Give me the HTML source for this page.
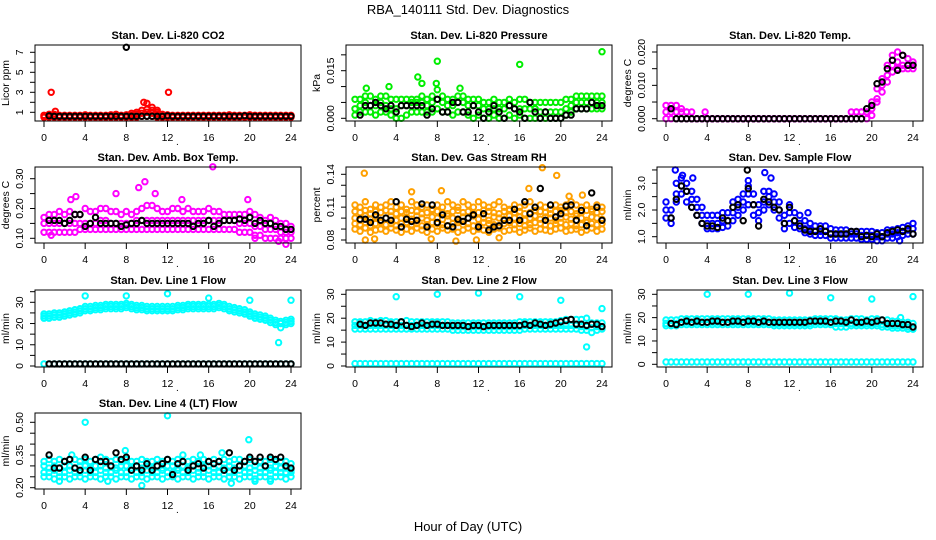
<!DOCTYPE html>
<html><head><meta charset="utf-8"><style>
html,body{margin:0;padding:0;background:#fff;}
svg{display:block;font-family:"Liberation Sans",Arial,sans-serif;}
</style></head><body>
<svg id="chart" width="936" height="540" viewBox="0 0 936 540" xmlns="http://www.w3.org/2000/svg">
<rect x="0" y="0" width="936" height="540" fill="#fff"/>
<text x="468" y="14" text-anchor="middle" font-size="13">RBA_140111  Std. Dev. Diagnostics</text>
<text x="468" y="531" text-anchor="middle" font-size="13">Hour of Day (UTC)</text>
</svg>
<script>
const hours=[0,0.5,1,1.5,2,2.5,3,3.5,4,4.5,5,5.5,6,6.5,7,7.5,8,8.5,9,9.5,10,10.5,11,11.5,12,12.5,13,13.5,14,14.5,15,15.5,16,16.5,17,17.5,18,18.5,19,19.5,20,20.5,21,21.5,22,22.5,23,23.5,24];
const xTicks=[0,4,8,12,16,20,24];

const co2Hi=[0.7,0.8,0.8,0.7,0.7,0.7,0.7,0.7,0.75,0.7,0.7,0.7,0.7,0.75,0.8,0.7,0.75,0.9,1.0,1.2,1.3,1.2,1.0,0.8,0.75,0.7,0.7,0.7,0.7,0.7,0.7,0.7,0.7,0.7,0.7,0.7,0.75,0.7,0.7,0.7,0.75,0.7,0.7,0.7,0.7,0.7,0.7,0.7,0.7];
const co2Mid=[0.6,0.6,0.6,0.6,0.6,0.6,0.6,0.6,0.6,0.6,0.6,0.6,0.6,0.6,0.6,0.6,0.6,0.7,0.8,0.9,1.0,0.9,0.8,0.6,0.6,0.6,0.6,0.6,0.6,0.6,0.6,0.6,0.6,0.6,0.6,0.6,0.6,0.6,0.6,0.6,0.6,0.6,0.6,0.6,0.6,0.6,0.6,0.6,0.6];
const co2Lo=[0.5,0.5,0.5,0.5,0.5,0.5,0.5,0.5,0.5,0.5,0.5,0.5,0.5,0.5,0.5,0.5,0.5,0.5,0.5,0.6,0.6,0.6,0.5,0.5,0.5,0.5,0.5,0.5,0.5,0.5,0.5,0.5,0.5,0.5,0.5,0.5,0.5,0.5,0.5,0.5,0.5,0.5,0.5,0.5,0.5,0.5,0.5,0.5,0.5];
const co2OutX=[0.7,1.1,9.7,10.0,10.5,11.0,12.1];
const co2OutY=[3.0,1.1,2.0,1.9,1.5,1.2,3.0];
const co2Black=[0.6,0.65,0.6,0.6,0.6,0.6,0.6,0.6,0.6,0.6,0.6,0.6,0.6,0.6,0.6,0.6,0.6,0.6,0.6,0.6,0.6,0.6,0.6,0.6,0.65,0.6,0.6,0.6,0.6,0.6,0.6,0.6,0.6,0.6,0.6,0.6,0.6,0.6,0.6,0.65,0.6,0.6,0.6,0.6,0.6,0.6,0.6,0.6,0.6];
const co2BlackOutX=[8.0];
const co2BlackOutY=[7.5];

const presHi=[0.006,0.006,0.007,0.007,0.006,0.007,0.007,0.006,0.006,0.006,0.006,0.006,0.006,0.007,0.006,0.007,0.009,0.007,0.006,0.006,0.007,0.007,0.006,0.006,0.006,0.005,0.005,0.006,0.005,0.005,0.006,0.005,0.006,0.006,0.005,0.005,0.005,0.005,0.005,0.005,0.005,0.006,0.006,0.007,0.007,0.007,0.007,0.007,0.007];
const presMid=[0.003,0.004,0.005,0.004,0.004,0.005,0.004,0.003,0.003,0.004,0.004,0.005,0.005,0.005,0.004,0.005,0.006,0.005,0.004,0.004,0.005,0.005,0.004,0.004,0.004,0.003,0.003,0.003,0.003,0.003,0.004,0.003,0.003,0.003,0.003,0.003,0.002,0.002,0.002,0.002,0.002,0.003,0.004,0.005,0.005,0.005,0.005,0.005,0.005];
const presLo=[0.001,0.002,0.002,0.002,0.001,0.002,0.002,0.001,0.000,0.000,0.001,0.002,0.002,0.002,0.002,0.002,0.003,0.002,0.002,0.001,0.002,0.002,0.001,0.000,0.001,0.000,0.000,0.001,0.000,0.000,0.001,0.000,0.001,0.000,0.000,0.000,0.000,0.000,0.000,0.000,0.000,0.001,0.002,0.003,0.003,0.003,0.003,0.003,0.003];
const presOutX=[1.1,3.3,6.1,6.5,7.9,8.0,10.2,16.0,24.0];
const presOutY=[0.0095,0.010,0.013,0.011,0.011,0.018,0.0095,0.017,0.021];
const presBlack=[0.001,0.001,0.004,0.004,0.005,0.004,0.003,0.004,0.002,0.004,0.004,0.004,0.004,0.004,0.001,0.003,0.006,0.002,0.002,0.005,0.005,0.002,0.002,0.004,0.002,0.000,0.002,0.004,0.002,0.000,0.004,0.003,0.002,0.000,0.005,0.002,0.000,0.002,0.000,0.000,0.000,0.001,0.001,0.003,0.003,0.003,0.005,0.004,0.004];

const tempHi=[0.004,0.004,0.004,0.003,0.002,0.002,0,0,0,0,0,0,0,0,0,0,0,0,0,0,0,0,0,0,0,0,0,0,0,0,0,0,0,0,0,0,0.002,0.002,0.002,0.002,0.005,0.009,0.012,0.016,0.019,0.020,0.019,0.018,0.017];
const tempMid=[0.002,0.002,0.002,0.002,0.002,0,0,0,0,0,0,0,0,0,0,0,0,0,0,0,0,0,0,0,0,0,0,0,0,0,0,0,0,0,0,0,0,0.002,0.002,0.002,0.003,0.006,0.010,0.013,0.016,0.017,0.016,0.016,0.016];
const tempLo=[0,0,0,0,0,0,0,0,0,0,0,0,0,0,0,0,0,0,0,0,0,0,0,0,0,0,0,0,0,0,0,0,0,0,0,0,0,0,0,0,0.001,0.005,0.008,0.011,0.014,0.015,0.015,0.015,0.015];
const tempOutX=[3.8];
const tempOutY=[0.002];
const tempBlack=[0,0.003,0,0,0,0,0,0,0,0,0,0,0,0,0,0,0,0,0,0,0,0,0,0,0,0,0,0,0,0,0,0,0,0,0,0,0,0,0,0.003,0.004,0.0105,0.011,0.015,0.0175,0.0145,0.019,0.016,0.016];

const boxHi=[0.17,0.18,0.18,0.19,0.18,0.19,0.18,0.18,0.20,0.19,0.19,0.20,0.20,0.19,0.19,0.18,0.19,0.18,0.19,0.20,0.21,0.21,0.20,0.19,0.19,0.20,0.20,0.19,0.20,0.19,0.19,0.19,0.20,0.19,0.19,0.18,0.18,0.18,0.18,0.18,0.19,0.18,0.17,0.16,0.17,0.16,0.15,0.15,0.14];
const boxMid=[0.15,0.15,0.15,0.15,0.15,0.15,0.15,0.15,0.15,0.15,0.15,0.16,0.16,0.15,0.15,0.15,0.15,0.15,0.16,0.16,0.16,0.16,0.16,0.16,0.16,0.16,0.16,0.16,0.16,0.16,0.16,0.16,0.16,0.16,0.16,0.16,0.16,0.16,0.15,0.15,0.15,0.14,0.14,0.13,0.13,0.13,0.12,0.12,0.12];
const boxLo=[0.12,0.12,0.12,0.12,0.12,0.12,0.12,0.13,0.13,0.13,0.13,0.13,0.13,0.13,0.13,0.13,0.13,0.13,0.13,0.13,0.13,0.13,0.13,0.13,0.13,0.13,0.13,0.13,0.13,0.13,0.13,0.13,0.13,0.13,0.13,0.13,0.13,0.13,0.12,0.12,0.12,0.11,0.11,0.10,0.10,0.10,0.10,0.10,0.10];
const boxOutX=[0.7,2.6,3.1,7.0,9.2,9.8,10.8,13.4,16.4,19.8,20.5,22.8,23.5];
const boxOutY=[0.11,0.23,0.24,0.25,0.27,0.29,0.25,0.23,0.34,0.23,0.10,0.09,0.08];
const boxBlack=[0.15,0.16,0.16,0.16,0.15,0.16,0.18,0.18,0.14,0.15,0.17,0.15,0.15,0.15,0.15,0.14,0.145,0.15,0.15,0.16,0.15,0.15,0.15,0.15,0.15,0.15,0.15,0.15,0.15,0.14,0.15,0.15,0.16,0.14,0.15,0.16,0.16,0.16,0.165,0.16,0.17,0.15,0.16,0.15,0.15,0.14,0.14,0.13,0.13];

const rhHi=[0.112,0.110,0.115,0.108,0.112,0.110,0.112,0.115,0.110,0.112,0.108,0.115,0.112,0.110,0.112,0.108,0.112,0.110,0.115,0.112,0.110,0.115,0.112,0.110,0.115,0.112,0.110,0.112,0.115,0.110,0.108,0.112,0.110,0.112,0.115,0.110,0.112,0.110,0.108,0.112,0.110,0.112,0.115,0.112,0.110,0.112,0.108,0.112,0.110];
const rhUp=[0.106,0.105,0.107,0.104,0.106,0.105,0.107,0.106,0.104,0.106,0.105,0.107,0.106,0.104,0.105,0.107,0.106,0.105,0.104,0.106,0.107,0.105,0.106,0.104,0.105,0.107,0.106,0.105,0.104,0.106,0.107,0.105,0.106,0.104,0.105,0.107,0.106,0.105,0.104,0.106,0.107,0.105,0.106,0.104,0.105,0.107,0.106,0.105,0.106];
const rhMid=[0.100,0.098,0.102,0.099,0.101,0.097,0.100,0.102,0.098,0.100,0.101,0.099,0.102,0.100,0.098,0.101,0.100,0.099,0.102,0.100,0.098,0.101,0.100,0.102,0.099,0.100,0.098,0.101,0.100,0.099,0.102,0.100,0.101,0.098,0.100,0.102,0.099,0.101,0.100,0.098,0.100,0.101,0.099,0.102,0.100,0.098,0.101,0.100,0.099];
const rhDown=[0.095,0.094,0.096,0.093,0.095,0.096,0.094,0.095,0.093,0.095,0.096,0.094,0.095,0.093,0.094,0.096,0.095,0.094,0.093,0.095,0.096,0.094,0.095,0.093,0.094,0.096,0.095,0.094,0.093,0.095,0.096,0.094,0.095,0.093,0.094,0.096,0.095,0.094,0.093,0.095,0.096,0.094,0.095,0.093,0.094,0.096,0.095,0.094,0.095];
const rhLo=[0.090,0.088,0.091,0.087,0.089,0.090,0.088,0.091,0.089,0.087,0.090,0.088,0.091,0.089,0.087,0.090,0.088,0.091,0.089,0.090,0.087,0.089,0.091,0.088,0.090,0.089,0.087,0.090,0.091,0.088,0.089,0.090,0.087,0.089,0.091,0.088,0.090,0.089,0.088,0.090,0.091,0.088,0.089,0.090,0.087,0.089,0.091,0.088,0.090];
const rhOutX=[0.9,1.0,1.9,5.5,7.4,8.4,9.8,11.8,14.0,16.9,18.2,19.6,20.8,22.1];
const rhOutY=[0.141,0.080,0.081,0.124,0.081,0.125,0.079,0.080,0.082,0.127,0.146,0.139,0.120,0.121];
const rhBlack=[0.100,0.099,0.099,0.096,0.103,0.098,0.100,0.098,0.115,0.092,0.099,0.097,0.098,0.113,0.092,0.112,0.096,0.103,0.093,0.092,0.099,0.097,0.100,0.103,0.092,0.104,0.089,0.092,0.093,0.098,0.098,0.108,0.098,0.115,0.104,0.110,0.127,0.098,0.112,0.101,0.104,0.111,0.112,0.098,0.107,0.093,0.123,0.110,0.098];

const flowHi=[2.3,2.0,3.0,3.2,3.0,2.7,2.4,2.1,1.8,1.8,1.8,1.9,1.9,2.3,2.4,2.6,2.9,2.6,2.2,2.7,2.7,2.6,2.3,1.8,2.2,1.9,1.8,1.6,1.5,1.4,1.4,1.4,1.3,1.25,1.25,1.25,1.2,1.2,1.2,1.2,1.2,1.15,1.15,1.25,1.25,1.3,1.35,1.4,1.5];
const flowMid=[2.0,1.7,2.6,2.9,2.7,2.4,2.1,1.8,1.5,1.5,1.5,1.6,1.6,1.9,2.1,2.3,2.6,2.2,1.9,2.3,2.5,2.3,2.0,1.5,1.9,1.6,1.5,1.3,1.25,1.2,1.2,1.2,1.1,1.1,1.1,1.1,1.1,1.1,1.05,1.05,1.05,1.0,1.0,1.1,1.1,1.15,1.2,1.25,1.3];
const flowLo=[1.7,1.5,2.3,2.6,2.3,2.1,1.8,1.5,1.3,1.3,1.3,1.35,1.4,1.6,1.8,2.0,2.2,1.8,1.6,2.0,2.2,2.0,1.7,1.3,1.5,1.35,1.3,1.15,1.1,1.05,1.05,1.05,0.95,0.95,0.95,0.95,0.95,0.95,0.9,0.9,0.9,0.85,0.85,0.95,0.95,1.0,1.05,1.1,1.1];
const flowOutX=[0.9,1.6,2.6,8.0,9.6,10.2,13.8,22.7];
const flowOutY=[3.5,3.3,3.2,3.1,3.4,3.2,1.9,0.85];
const flowBlack=[1.8,1.7,2.4,2.9,2.7,2.1,1.8,1.5,1.4,1.4,1.35,1.7,1.6,2.1,2.2,1.6,2.8,2.2,1.4,2.4,2.3,2.1,2.0,1.5,2.1,1.6,1.4,1.25,1.2,1.2,1.3,1.2,1.1,1.1,1.1,1.1,1.2,1.2,1.0,1.05,1.0,1.1,1.0,1.15,1.2,1.25,1.2,1.3,1.1];
const flowBlackOutX=[7.9];
const flowBlackOutY=[3.5];

const base1=[1,1,1,1,1,1,1,1,1,1,1,1,1,1,1,1,1,1,1,1,1,1,1,1,1,1,1,1,1,1,1,1,1,1,1,1,1,1,1,1,1,1,1,1,1,1,1,1,1];
const line1Hi=[24.5,24.5,25,25,25.5,26,26.5,27,28,28,28.5,28.5,29,29,29,29,29.5,29,28.5,28.5,28,28,28,28,28,28,28.5,28.5,29,29,29,29,29,29,29.5,29,28,27.5,27,26.5,25.5,24.5,24,23.5,22.5,21.5,21,21.5,22];
const line1Mid=[23.5,23.5,24,24,24.5,25,25.5,26,27,27,27.5,27.5,28,28,28,28,28.5,28,27.5,27.5,27,27,27,27,27,27,27.5,27.5,28,28,28,28,28,28,28.5,28,27,26.5,26,25.5,24.5,23.5,23,22.5,21.5,20.5,20,20.5,21];
const line1Lo=[22.5,22.5,23,23,23.5,24,24.5,25,26,26,26.5,26.5,27,27,27,27,27.5,27,26.5,26.5,26,26,26,26,26,26,26.5,26.5,27,27,27,27,27,27,27.5,27,26,25.5,25,24.5,23.5,22.5,22,21.5,20.5,19.5,18,19.5,20];
const line1OutX=[4,8,12,16,20,22.8,24];
const line1OutY=[33,33,34,32,31,11,31];

const line2Hi=[18.5,18.5,18.5,19,18.5,19,19,18.5,18.5,18.5,19,18.5,18.5,18.5,18.5,18.5,18.5,18.5,18.5,18,18,18,18,18,18,18,18,18,18,18,18,18,18.5,18.5,18.5,18.5,18.5,18.5,18.5,18.5,19,19.5,19.5,19.5,19.5,20,18,18,18];
const line2Mid=[17,17,17,17,17,17,17,17,17,17,17,17,17,17,17,17,17,17,17,16.5,16.5,16.5,16.5,16.5,16.5,16.5,16.5,16.5,16.5,16.5,16.5,16.5,16.5,17,17,17,17,17,17,17,17,17,17,17,16.5,16.5,16,16.5,16.5];
const line2Lo=[15.5,15.5,15.5,15.5,15.5,15.5,15.5,15.5,15.5,15.5,15.5,15.5,15.5,15.5,15.5,15.5,15.5,15.5,15.5,15,15,15,15,15,15,15,15,15,15,15,15,15,15,15.5,15.5,15.5,15.5,15.5,15.5,15.5,15.5,15.5,15.5,15.5,15,15,14,15,15.5];
const line2OutX=[4,8,12,16,20,22.5,24];
const line2OutY=[29,30,30.5,29,27.5,8,24];
const line2Black=[17.5,17.5,17,18,18,18,17.5,17.5,17,18.5,17,16.5,17,18,17,17.5,17.5,17,17,17,17,17,16.5,17,17,16.5,17,17,17,17,17,17,17,17.5,17,18,17.5,17,17.5,18,18.5,19,19.5,17.5,17.5,17,17.5,17.5,16.5];

const line3Hi=[19,19,19,19.5,19.5,19.5,19.5,19.5,19.5,19.5,19.5,19.5,19.5,19.5,19.5,19.5,19.5,19.5,19.5,19.5,19.5,19,19,19,19,19,19,19,19,19.5,19.5,19.5,19.5,19.5,19,19,19.5,19.5,19.5,19,19.5,19.5,19,19,18.5,18.5,18,18,17.5];
const line3Mid=[17.5,17.5,17.5,18,18,18,18,18,18,18,18,18,18,18,18,18,18,18,18,18,18,17.5,17.5,17.5,17.5,17.5,17.5,17.5,17.5,18,18,18,18,17.5,17.5,17.5,17.5,17.5,17.5,17.5,17.5,17.5,17,17,16.5,16.5,16.5,16,16];
const line3Lo=[16.5,16.5,16.5,17,17,17,17,17,17,17,17,17,17,17,17,17,17,17,17,17,17,16.5,16.5,16.5,16.5,16.5,16.5,16.5,16.5,17,17,17,17,16,16,16,16.5,16.5,16.5,16.5,16.5,16.5,16,16,15.5,15.5,15.5,15,15];
const line3OutX=[4,8,12,16,20,22.8,24];
const line3OutY=[30,30,30.5,28.5,28,20,29];
const line3Black=[17.5,17.5,17,18,18.5,18,18.5,18,18,18.5,18.5,18,18,18.5,18.5,18,18.5,18.5,18,18.5,18,18,18,18,18,18,18,18,18.5,18.5,18.5,18.5,18,18.5,18.5,18,19,18,18,18.5,18,18.5,19,17.5,17.5,17.5,17,17,16];

const line4Hi=[0.32,0.33,0.32,0.33,0.32,0.33,0.33,0.32,0.33,0.32,0.33,0.34,0.33,0.32,0.33,0.32,0.33,0.32,0.32,0.33,0.32,0.32,0.33,0.32,0.33,0.32,0.33,0.32,0.32,0.33,0.32,0.33,0.32,0.33,0.32,0.33,0.32,0.33,0.33,0.32,0.33,0.32,0.32,0.32,0.33,0.32,0.32,0.32,0.31];
const line4Up=[0.30,0.29,0.30,0.29,0.30,0.30,0.29,0.30,0.30,0.29,0.30,0.30,0.29,0.30,0.29,0.30,0.30,0.29,0.30,0.29,0.30,0.29,0.30,0.29,0.30,0.30,0.29,0.30,0.29,0.30,0.29,0.30,0.30,0.29,0.30,0.29,0.30,0.29,0.30,0.30,0.29,0.30,0.29,0.30,0.29,0.30,0.29,0.29,0.28];
const line4Mid=[0.27,0.27,0.28,0.27,0.27,0.28,0.27,0.27,0.28,0.27,0.27,0.28,0.27,0.27,0.28,0.27,0.27,0.28,0.27,0.27,0.28,0.27,0.27,0.28,0.27,0.27,0.28,0.27,0.27,0.28,0.27,0.27,0.28,0.27,0.27,0.28,0.27,0.27,0.28,0.27,0.27,0.28,0.27,0.27,0.28,0.27,0.27,0.27,0.27];
const line4Lo=[0.25,0.25,0.24,0.25,0.25,0.24,0.25,0.25,0.24,0.25,0.25,0.24,0.25,0.25,0.24,0.25,0.25,0.24,0.25,0.25,0.24,0.25,0.25,0.24,0.25,0.25,0.24,0.25,0.25,0.24,0.25,0.25,0.24,0.25,0.25,0.24,0.25,0.25,0.24,0.25,0.25,0.24,0.25,0.25,0.24,0.25,0.25,0.24,0.25];
const line4OutX=[1.5,2.7,4.0,6.2,7.9,9.5,12.0,13.5,15.2,17.3,18.2,19.9,20.5,22.0];
const line4OutY=[0.23,0.35,0.50,0.23,0.37,0.21,0.53,0.35,0.35,0.36,0.22,0.42,0.23,0.23];
const line4Black=[0.30,0.35,0.29,0.29,0.32,0.33,0.29,0.28,0.34,0.28,0.33,0.32,0.32,0.30,0.36,0.33,0.34,0.28,0.30,0.28,0.31,0.28,0.30,0.31,0.33,0.26,0.31,0.32,0.28,0.30,0.31,0.29,0.32,0.31,0.32,0.28,0.36,0.28,0.30,0.32,0.34,0.32,0.34,0.30,0.34,0.33,0.34,0.30,0.29];

const svg=document.getElementById('chart');
const NS='http://www.w3.org/2000/svg';
function mk(tag,attrs,parent){const e=document.createElementNS(NS,tag);for(const k in attrs)e.setAttribute(k,attrs[k]);(parent||svg).appendChild(e);return e;}

function panel(cfg){
  const L=35+311*cfg.col, T=cfg.top, W=266, H=cfg.h;
  const g=mk('g',{});
  
  
  const xs=v=>L+9+v*(247/24);
  const ys=v=>T+cfg.pA+(v-cfg.vA)*(cfg.pB-cfg.pA)/(cfg.vB-cfg.vA);
  const t=mk('text',{x:L+W/2,y:T-6,'text-anchor':'middle','font-size':11,'font-weight':'bold'},g);
  t.textContent=cfg.title;
  
  
  const clip=mk('g',{},g);
  
  
  const dot=(x,y,col)=>{const c=mk('circle',{cx:xs(x).toFixed(1),cy:ys(y).toFixed(1),r:2.7,fill:'none',stroke:col,'stroke-width':2},clip);
    
    };
  cfg.series.forEach(arr=>{arr.forEach((v,i)=>{if(v!==null)dot(hours[i],v,cfg.color);});});
  if(cfg.outX)cfg.outX.forEach((x,i)=>dot(x,cfg.outY[i],cfg.color));
  if(cfg.black)cfg.black.forEach((v,i)=>{if(v!==null && i>0)dot(hours[i],v,'#000');});
  if(cfg.bOutX)cfg.bOutX.forEach((x,i)=>dot(x,cfg.bOutY[i],'#000'));
  const box=mk('rect',{x:L,y:T,width:W,height:H,fill:'none',stroke:'#000','stroke-width':1},g);
  
  
  const xa=mk('g',{},g);
  
  
  mk('line',{x1:xs(0),x2:xs(24),y1:T+H,y2:T+H,stroke:'#000'},xa);
  xTicks.forEach(v=>{mk('line',{x1:xs(v),x2:xs(v),y1:T+H,y2:T+H+6,stroke:'#000'},xa);
    const tl=mk('text',{x:xs(v),y:T+H+20,'text-anchor':'middle','font-size':10.5},xa);tl.textContent=v;});
  const d=mk('text',{x:L+141,y:T+H+24,'font-size':10},xa);d.textContent='.';
  const ya=mk('g',{},g);
  
  
  const yt=cfg.yticks;
  mk('line',{x1:L,x2:L,y1:ys(yt[0]),y2:ys(yt[yt.length-1]),stroke:'#000'},ya);
  yt.forEach(v=>mk('line',{x1:L-5,x2:L,y1:ys(v),y2:ys(v),stroke:'#000'},ya));
  cfg.ylabels.forEach(v=>{const y=ys(parseFloat(v));const tl=mk('text',{x:L-12,y:y,'text-anchor':'middle','font-size':10.5,transform:`rotate(-90 ${L-12} ${y})`},ya);tl.textContent=v;});
  const yl=mk('text',{x:L-26,y:T+H/2,'text-anchor':'middle','font-size':10.5,transform:`rotate(-90 ${L-26} ${T+H/2})`},ya);
  yl.textContent=cfg.ylab;
  
  
}

panel({name:'co2',title:'Stan. Dev. Li-820 CO2',col:0,top:45,h:76,vA:7,pA:7.3,vB:1,pB:67.3,yticks:[1,2,3,4,5,6,7],ylabels:['1','3','5','7'],ylab:'Licor ppm',color:'#ff0000',series:[co2Lo,co2Mid,co2Hi],outX:co2OutX,outY:co2OutY,black:co2Black,bOutX:co2BlackOutX,bOutY:co2BlackOutY});
panel({name:'pressure',title:'Stan. Dev. Li-820 Pressure',col:1,top:45,h:76,vA:0,pA:73.3,vB:0.015,pB:25.7,yticks:[0,0.005,0.01,0.015,0.02],ylabels:['0.000','0.015'],ylab:'kPa',color:'#00ee00',series:[presLo,presMid,presHi],outX:presOutX,outY:presOutY,black:presBlack});
panel({name:'temp',title:'Stan. Dev. Li-820 Temp.',col:2,top:45,h:76,vA:0,pA:73.7,vB:0.02,pB:7,yticks:[0,0.005,0.01,0.015,0.02],ylabels:['0.000','0.010','0.020'],ylab:'degrees C',color:'#ff00ff',series:[tempLo,tempMid,tempHi],outX:tempOutX,outY:tempOutY,black:tempBlack});
panel({name:'box-temp',title:'Stan. Dev. Amb. Box Temp.',col:0,top:167,h:76,vA:0.30,pA:11.7,vB:0.10,pB:71.3,yticks:[0.10,0.15,0.20,0.25,0.30],ylabels:['0.10','0.20','0.30'],ylab:'degrees C',color:'#ff00ff',series:[boxLo,boxMid,boxHi],outX:boxOutX,outY:boxOutY,black:boxBlack});
panel({name:'rh',title:'Stan. Dev. Gas Stream RH',col:1,top:167,h:76,vA:0.14,pA:7.3,vB:0.08,pB:73,yticks:[0.08,0.09,0.10,0.11,0.12,0.13,0.14],ylabels:['0.08','0.11','0.14'],ylab:'percent',color:'#ffa000',series:[rhLo,rhDown,rhMid,rhUp,rhHi],outX:rhOutX,outY:rhOutY,black:rhBlack});
panel({name:'sample-flow',title:'Stan. Dev. Sample Flow',col:2,top:167,h:76,vA:3.0,pA:16.3,vB:1.0,pB:69.7,yticks:[1.0,1.5,2.0,2.5,3.0,3.5],ylabels:['1.0','2.0','3.0'],ylab:'ml/min',color:'#0000ff',series:[flowLo,flowMid,flowHi],outX:flowOutX,outY:flowOutY,black:flowBlack,bOutX:flowBlackOutX,bOutY:flowBlackOutY});
panel({name:'line1',title:'Stan. Dev. Line 1 Flow',col:0,top:290,h:77,vA:30,pA:12.3,vB:0,pB:76,yticks:[0,5,10,15,20,25,30,35],ylabels:['0','10','20','30'],ylab:'ml/min',color:'#00ffff',series:[base1,line1Lo,line1Mid,line1Hi],outX:line1OutX,outY:line1OutY,black:base1});
panel({name:'line2',title:'Stan. Dev. Line 2 Flow',col:1,top:290,h:77,vA:30,pA:4.3,vB:0,pB:76,yticks:[0,5,10,15,20,25,30],ylabels:['0','10','20','30'],ylab:'ml/min',color:'#00ffff',series:[base1,line2Lo,line2Mid,line2Hi],outX:line2OutX,outY:line2OutY,black:line2Black});
panel({name:'line3',title:'Stan. Dev. Line 3 Flow',col:2,top:290,h:77,vA:30,pA:4.3,vB:0,pB:74.3,yticks:[0,5,10,15,20,25,30],ylabels:['0','10','20','30'],ylab:'ml/min',color:'#00ffff',series:[base1,line3Lo,line3Mid,line3Hi],outX:line3OutX,outY:line3OutY,black:line3Black});
panel({name:'line4',title:'Stan. Dev. Line 4 (LT) Flow',col:0,top:413,h:76,vA:0.50,pA:9.3,vB:0.20,pB:74.7,yticks:[0.20,0.25,0.30,0.35,0.40,0.45,0.50],ylabels:['0.20','0.35','0.50'],ylab:'ml/min',color:'#00ffff',series:[line4Lo,line4Mid,line4Up,line4Hi],outX:line4OutX,outY:line4OutY,black:line4Black});
</script>
</body></html>
